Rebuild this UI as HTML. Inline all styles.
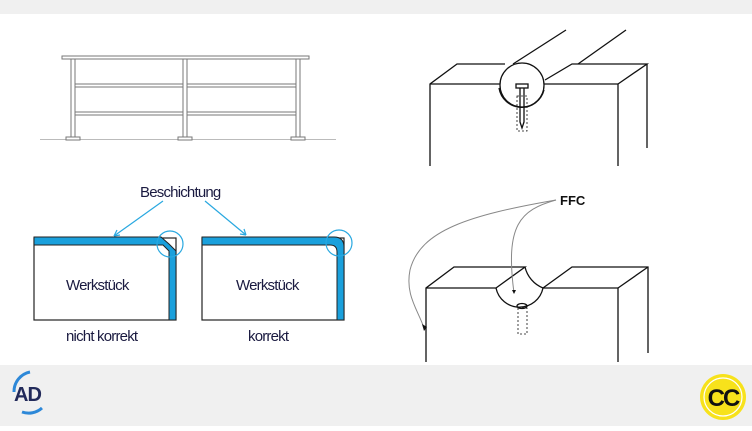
<!DOCTYPE html>
<html><head><meta charset="utf-8"><style>
body{margin:0;width:752px;height:426px;overflow:hidden;background:#fff;font-family:"Liberation Sans",sans-serif}
</style></head><body>
<svg width="752" height="426" viewBox="0 0 752 426" xmlns="http://www.w3.org/2000/svg">
<rect x="0" y="0" width="752" height="14" fill="#f0f0f0"/>
<rect x="0" y="365" width="752" height="61" fill="#f0f0f0"/>
<!-- railing -->
<g stroke="#777" stroke-width="1" fill="#fff">
<line x1="40" y1="139.5" x2="336" y2="139.5" stroke="#bbb"/>
<rect x="71" y="58" width="4" height="79"/><rect x="183" y="58" width="4" height="79"/><rect x="296" y="58" width="4" height="79"/>
<rect x="66" y="137" width="14" height="3"/><rect x="178" y="137" width="14" height="3"/><rect x="291" y="137" width="14" height="3"/>
<rect x="62" y="56" width="247" height="3"/>
<rect x="75" y="84" width="108" height="3"/><rect x="187" y="84" width="109" height="3"/>
<rect x="75" y="112" width="108" height="3"/><rect x="187" y="112" width="109" height="3"/>
</g>
<!-- coating boxes -->
<g stroke="#29a8e0" stroke-width="1.2" fill="none">
<line x1="163" y1="201" x2="114" y2="236"/><path d="M114 236 l3-6 M114 236 l6-1"/>
<line x1="205" y1="201" x2="246" y2="235"/><path d="M246 235 l-6-1 M246 235 l-2-6"/>
</g>
<rect x="34" y="238" width="142" height="82" fill="#fff" stroke="#222" stroke-width="1.2"/>
<path d="M34 237 H161 L169 244 L176 251 V320 H169 V251 L163 245 H34Z" fill="#1aa0dc" stroke="#222" stroke-width="1"/>
<rect x="202" y="238" width="142" height="82" fill="#fff" stroke="#222" stroke-width="1.2"/>
<path d="M202 237 H334 Q344 237 344 247 V320 H337 V252 Q337 245 330 245 H202Z" fill="#1aa0dc" stroke="#222" stroke-width="1"/>
<g stroke="#29a8e0" stroke-width="1.2" fill="none">
<circle cx="170" cy="244" r="13"/><circle cx="339" cy="243" r="13"/>
</g>
<g font-size="15" fill="#1a1a40" letter-spacing="-0.8">
<text x="140" y="197">Beschichtung</text>
<text x="66" y="290">Werkstück</text>
<text x="236" y="290">Werkstück</text>
<text x="66" y="341">nicht korrekt</text>
<text x="248" y="341">korrekt</text>
</g>
<!-- top right drawing -->
<g stroke="#111" stroke-width="1.3" fill="none">
<path d="M430 166 V84 L457 64 H505"/><path d="M430 84 H502"/>
<path d="M542 84 H618 V166"/><path d="M618 84 L647 64 H572 L545 80"/><path d="M647 64 V148"/>
<line x1="513" y1="64" x2="566" y2="30"/><line x1="578" y1="64" x2="626" y2="30"/>
<path d="M499 88 A23 23 0 0 0 544 90"/>
<circle cx="522" cy="85" r="22" fill="#fff"/>
<rect x="516" y="84" width="12" height="4"/><path d="M520 88 V122 L522 128 L524 122 V88"/>
<rect x="517" y="96" width="10" height="35" stroke-dasharray="2 2" stroke-width="0.8"/>
</g>
<!-- bottom right drawing -->
<g stroke="#111" stroke-width="1.3" fill="none">
<path d="M426 362 V288 L454 267 H525 L496 288 H426"/>
<path d="M496 288 A24 24 0 0 0 543 288 L572 267 H648 V353"/><path d="M543 288 H618 V362"/><path d="M618 288 L648 267"/>
<path d="M525 267 A30 30 0 0 0 543 288"/>
<ellipse cx="522" cy="306" rx="5" ry="2.5"/>
<rect x="518" y="308" width="9" height="26" stroke-dasharray="2 2" stroke-width="0.8"/>
</g>
<g stroke="#888" stroke-width="1" fill="none">
<path d="M556 200 C470 215 420 230 410 270 C405 295 418 310 424 328"/>
<path d="M556 200 C520 210 505 225 514 293"/>
</g>
<path d="M512 290 l4 0 l-2 4z" fill="#111"/><path d="M422 324 l5 3 l-3 4z" fill="#111"/>
<text x="560" y="205" font-size="13" font-weight="bold" fill="#111">FFC</text>
<!-- logos -->
<path d="M14 392 A20 20 0 0 1 30 372" stroke="#2d88d8" stroke-width="3" fill="none"/>
<path d="M42 408 A20 20 0 0 1 22 412" stroke="#2d88d8" stroke-width="3" fill="none"/>
<text x="14" y="401" font-size="20" font-weight="bold" fill="#222a5a" letter-spacing="-1">AD</text>
<circle cx="723" cy="397" r="23" fill="#f7e21b"/>
<circle cx="723" cy="397" r="19" fill="none" stroke="#fff" stroke-width="1.2"/>
<text x="723" y="406" font-size="24" font-weight="bold" fill="#111" text-anchor="middle" letter-spacing="-2">CC</text>
</svg>
</body></html>
